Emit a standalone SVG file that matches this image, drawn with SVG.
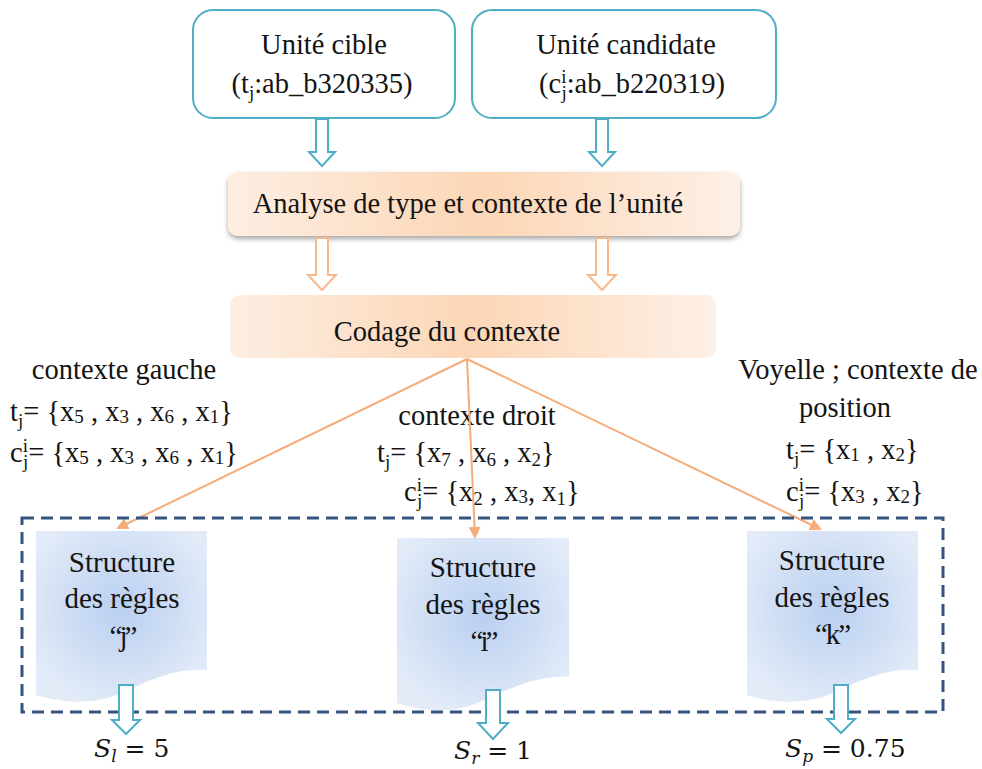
<svg xmlns="http://www.w3.org/2000/svg" width="982" height="769" viewBox="0 0 982 769">
  <defs>
    <linearGradient id="peach" x1="0" y1="0" x2="1" y2="0">
      <stop offset="0" stop-color="#fdeee2"/>
      <stop offset="0.5" stop-color="#fcd6b6"/>
      <stop offset="1" stop-color="#fdf0e6"/>
    </linearGradient>
    <radialGradient id="docFill" cx="0.5" cy="0.45" r="0.6">
      <stop offset="0" stop-color="#b9cff0"/>
      <stop offset="1" stop-color="#e3ebf8"/>
    </radialGradient>
    <filter id="shadow" x="-5%" y="-20%" width="110%" height="150%">
      <feDropShadow dx="0" dy="3" stdDeviation="2.5" flood-color="#000" flood-opacity="0.35"/>
    </filter>
    <marker id="tipOrange" viewBox="0 0 12 12" refX="10" refY="6" markerWidth="12" markerHeight="12" markerUnits="userSpaceOnUse" orient="auto">
      <path d="M0,0 L12,6 L0,12 Z" fill="#f5ac78"/>
    </marker>
    <style>
      .txt { font-family: "Liberation Serif", "Times New Roman", serif; font-size: 28.5px; fill: #141414; }
      .doctxt { font-family: "Liberation Serif", "Times New Roman", serif; font-size: 29px; fill: #141414; text-anchor: middle; }
      .mid { text-anchor: middle; }
      .sub { font-size: 19px; }
      .math { font-family: "DejaVu Serif", "Liberation Serif", serif; font-size: 25px; fill: #141414; }
      .it { font-style: italic; }
      .msub { font-size: 17px; font-style: italic; }
      .unit { fill: #ffffff; stroke: #4fadc6; stroke-width: 2; }
      .step { fill: url(#peach); }
      .doc { fill: url(#docFill); }
      .hollowTeal { fill: #ffffff; stroke: #4fadc6; stroke-width: 2; }
      .hollowOrange { fill: #ffffff; stroke: #f9b88a; stroke-width: 2; }
      .link { fill: none; stroke: #f5ac78; stroke-width: 2; marker-end: url(#tipOrange); }
      .frame { fill: none; stroke: #34557f; stroke-width: 3; stroke-dasharray: 12 7; }
    </style>
  </defs>

  <rect width="982" height="769" fill="#ffffff"/>

  <!-- input units -->
  <g id="unit-cible">
    <rect class="unit" x="193" y="10" width="262" height="108" rx="20"/>
    <text class="txt mid" x="324" y="54">Unité cible</text>
    <text class="txt mid" x="322" y="93">(t<tspan class="sub" dy="6">j</tspan><tspan dy="-6">:ab_b320335)</tspan></text>
  </g>
  <g id="unit-candidate">
    <rect class="unit" x="472" y="10" width="304" height="108" rx="20"/>
    <text class="txt mid" x="626" y="54">Unité candidate</text>
    <text class="txt mid" x="632" y="93">(c<tspan class="sub" dy="-10">i</tspan><tspan class="sub" dx="-5" dy="16">j</tspan><tspan dy="-6">:ab_b220319)</tspan></text>
  </g>

  <!-- processing steps -->
  <g id="analyse">
    <rect class="step" x="228" y="172" width="512" height="64" rx="10" filter="url(#shadow)"/>
    <text class="txt mid" x="468" y="213">Analyse de type et contexte de l’unité</text>
  </g>
  <g id="codage">
    <rect class="step" x="230" y="295" width="486" height="63" rx="10"/>
    <text class="txt mid" x="447" y="341">Codage du contexte</text>
  </g>

  <!-- context encodings -->
  <g id="ctx-gauche">
    <text class="txt mid" x="124" y="379">contexte gauche</text>
    <text class="txt" x="10" y="421">t<tspan class="sub" dy="6">j</tspan><tspan dy="-6">= {x</tspan><tspan class="sub" dy="2">5</tspan><tspan dy="-2"> , x</tspan><tspan class="sub" dy="2">3</tspan><tspan dy="-2"> , x</tspan><tspan class="sub" dy="2">6</tspan><tspan dy="-2"> , x</tspan><tspan class="sub" dy="2">1</tspan><tspan dy="-2">}</tspan></text>
    <text class="txt" x="10" y="462">c<tspan class="sub" dy="-10">i</tspan><tspan class="sub" dx="-5" dy="16">j</tspan><tspan dy="-6">= {x</tspan><tspan class="sub" dy="2">5</tspan><tspan dy="-2"> , x</tspan><tspan class="sub" dy="2">3</tspan><tspan dy="-2"> , x</tspan><tspan class="sub" dy="2">6</tspan><tspan dy="-2"> , x</tspan><tspan class="sub" dy="2">1</tspan><tspan dy="-2">}</tspan></text>
  </g>
  <g id="ctx-droit">
    <text class="txt mid" x="477" y="425">contexte droit</text>
    <text class="txt" x="377" y="462">t<tspan class="sub" dy="6">j</tspan><tspan dy="-6">= {x</tspan><tspan class="sub" dy="4">7</tspan><tspan dy="-4"> , x</tspan><tspan class="sub" dy="4">6</tspan><tspan dy="-4"> , x</tspan><tspan class="sub" dy="4">2</tspan><tspan dy="-4">}</tspan></text>
    <text class="txt" x="404" y="501">c<tspan class="sub" dy="-10">i</tspan><tspan class="sub" dx="-5" dy="16">j</tspan><tspan dy="-6">= {x</tspan><tspan class="sub" dy="4">2</tspan><tspan dy="-4"> , x</tspan><tspan class="sub" dy="2">3</tspan><tspan dy="-2">, x</tspan><tspan class="sub" dy="4">1</tspan><tspan dy="-4">}</tspan></text>
  </g>
  <g id="ctx-position">
    <text class="txt mid" x="858" y="379">Voyelle ; contexte de</text>
    <text class="txt mid" x="845" y="417">position</text>
    <text class="txt" x="786" y="459">t<tspan class="sub" dy="6">j</tspan><tspan dy="-6">= {x</tspan><tspan class="sub" dy="2">1</tspan><tspan dy="-2"> , x</tspan><tspan class="sub" dy="2">2</tspan><tspan dy="-2">}</tspan></text>
    <text class="txt" x="786" y="501">c<tspan class="sub" dy="-10">i</tspan><tspan class="sub" dx="-5" dy="16">j</tspan><tspan dy="-6">= {x</tspan><tspan class="sub" dy="2">3</tspan><tspan dy="-2"> , x</tspan><tspan class="sub" dy="2">2</tspan><tspan dy="-2">}</tspan></text>
  </g>

  <!-- rule structures -->
  <g id="regles-j">
    <path class="doc" d="M36,531 H207 V670 C175,668 150,680 120,694 C92,705 62,703 36,695 Z"/>
    <text class="doctxt" x="122" y="572">Structure</text>
    <text class="doctxt" x="122" y="608">des règles</text>
    <text class="doctxt" x="122" y="646" letter-spacing="-3">“j”</text>
  </g>
  <g id="regles-i">
    <path class="doc" d="M397,538 H569 V677 C537,675 512,688 482,701 C454,714 424,712 397,703 Z"/>
    <text class="doctxt" x="483" y="577">Structure</text>
    <text class="doctxt" x="483" y="614">des règles</text>
    <text class="doctxt" x="483" y="651" letter-spacing="-3">“i”</text>
  </g>
  <g id="regles-k">
    <path class="doc" d="M747,531 H918 V670 C886,668 861,680 831,694 C803,705 773,703 747,695 Z"/>
    <text class="doctxt" x="832" y="570">Structure</text>
    <text class="doctxt" x="832" y="607">des règles</text>
    <text class="doctxt" x="832" y="644" letter-spacing="-2">“k”</text>
  </g>

  <!-- scores -->
  <g id="score-l">
    <text class="math" x="94" y="757"><tspan class="it">S</tspan><tspan class="msub" dy="5">l</tspan><tspan dy="-5"> = 5</tspan></text>
  </g>
  <g id="score-r">
    <text class="math" x="454" y="759"><tspan class="it">S</tspan><tspan class="msub" dy="5">r</tspan><tspan dy="-5"> = 1</tspan></text>
  </g>
  <g id="score-p">
    <text class="math" x="785" y="757"><tspan class="it">S</tspan><tspan class="msub" dy="5">p</tspan><tspan dy="-5"> = 0.75</tspan></text>
  </g>

  <!-- connectors -->
  <g id="connectors">
    <path class="hollowTeal" d="M316,119 H328 V152 H335 L322,166 L309,152 H316 Z"/>
    <path class="hollowTeal" d="M596,119 H608 V152 H615 L602,166 L589,152 H596 Z"/>
    <path class="hollowOrange" d="M316,238 H328 V275 H336 L322,290 L308,275 H316 Z"/>
    <path class="hollowOrange" d="M596,238 H608 V275 H616 L602,290 L588,275 H596 Z"/>
    <line class="link" x1="467" y1="359" x2="118" y2="528"/>
    <line class="link" x1="467" y1="359" x2="475" y2="537"/>
    <line class="link" x1="467" y1="359" x2="820" y2="529"/>
    <rect class="frame" x="22" y="518" width="921" height="194"/>
    <path class="hollowTeal" d="M119,685 H133 V720 H140 L126,734 L112,720 H119 Z"/>
    <path class="hollowTeal" d="M486,690 H500 V723 H508 L493,739 L478,723 H486 Z"/>
    <path class="hollowTeal" d="M834,685 H848 V719 H855 L841,733 L827,719 H834 Z"/>
  </g>
</svg>
